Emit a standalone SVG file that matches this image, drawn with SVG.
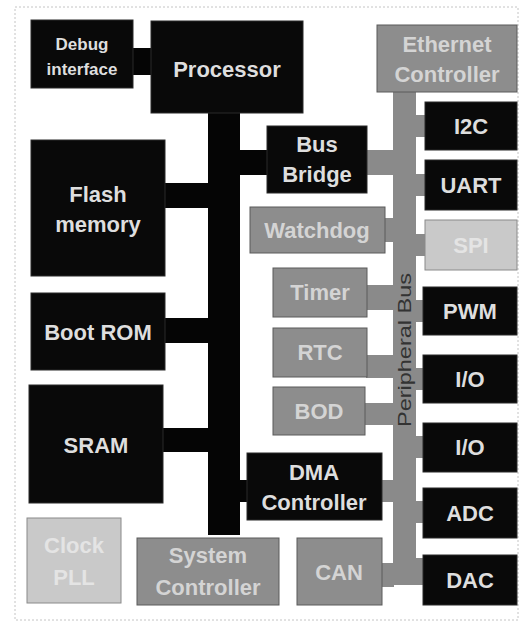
<svg xmlns="http://www.w3.org/2000/svg" width="523" height="623" viewBox="0 0 523 623">
<style>
text{font-family:"Liberation Sans",Arial,sans-serif;font-size:22px;font-weight:bold;text-anchor:middle}
.blk{fill:#090909;stroke:#2a2a2a;stroke-width:1}
.mid{fill:#8d8d8d;stroke:#5a5a5a;stroke-width:1}
.lt{fill:#c9c9c9;stroke:#8a8a8a;stroke-width:1}
.tb{fill:#dedede}
.tm{fill:#d4d4d4}
.tl{fill:#e4e4e4}
.bus{fill:#050505}
.pbus{fill:#8a8a8a}
</style>
<rect x="15" y="7" width="503" height="613" fill="#ffffff" stroke="#c4c4c4" stroke-width="1" stroke-dasharray="2,2"/>
<g id="connectors">
<rect class="bus" x="208" y="110" width="32" height="425"/>
<rect class="bus" x="132" y="48" width="20" height="27"/>
<rect class="bus" x="164" y="183" width="45" height="25"/>
<rect class="bus" x="164" y="318" width="45" height="25"/>
<rect class="bus" x="162" y="428" width="47" height="24"/>
<rect class="bus" x="239" y="150" width="29" height="25"/>
<rect class="bus" x="237" y="480" width="11" height="22"/>
<rect class="pbus" x="393" y="91" width="23" height="494"/>
<rect class="pbus" x="366" y="150" width="28" height="25"/>
<rect class="pbus" x="384" y="218" width="10" height="24"/>
<rect class="pbus" x="366" y="285" width="28" height="25"/>
<rect class="pbus" x="366" y="355" width="28" height="23"/>
<rect class="pbus" x="364" y="403" width="30" height="22"/>
<rect class="pbus" x="381" y="480" width="13" height="22"/>
<rect class="pbus" x="381" y="563" width="13" height="24"/>
<rect class="pbus" x="415" y="558" width="9" height="27"/>
<rect class="pbus" x="415" y="115" width="11" height="22"/>
<rect class="pbus" x="415" y="174" width="11" height="22"/>
<rect class="pbus" x="415" y="234" width="11" height="22"/>
<rect class="pbus" x="415" y="300" width="11" height="22"/>
<rect class="pbus" x="415" y="368" width="11" height="22"/>
<rect class="pbus" x="415" y="436" width="11" height="22"/>
<rect class="pbus" x="415" y="501" width="11" height="22"/>
<text x="405" y="350" transform="rotate(-90 405 350)" dy="6" textLength="154" lengthAdjust="spacingAndGlyphs" style="font-size:19px;font-weight:normal;fill:#333333">Peripheral Bus</text>
</g>
<g id="debug"><rect class="blk" x="31" y="20" width="102" height="68"/><text class="tb" x="82" y="50" style="font-size:17px">Debug</text><text class="tb" x="82" y="75" style="font-size:17px">interface</text></g>
<g id="processor"><rect class="blk" x="151" y="21" width="152" height="92"/><text class="tb" x="227" y="77">Processor</text></g>
<g id="flash"><rect class="blk" x="31" y="140" width="134" height="136"/><text class="tb" x="98" y="202">Flash</text><text class="tb" x="98" y="232">memory</text></g>
<g id="bootrom"><rect class="blk" x="31" y="293" width="134" height="77"/><text class="tb" x="98" y="340">Boot ROM</text></g>
<g id="sram"><rect class="blk" x="29" y="385" width="134" height="118"/><text class="tb" x="96" y="453">SRAM</text></g>
<g id="clockpll"><rect class="lt" x="27" y="518" width="94" height="85"/><text class="tl" x="74" y="553">Clock</text><text class="tl" x="74" y="585">PLL</text></g>
<g id="busbridge"><rect class="blk" x="267" y="126" width="100" height="67"/><text class="tb" x="317" y="152">Bus</text><text class="tb" x="317" y="182">Bridge</text></g>
<g id="ethernet"><rect class="mid" x="377" y="25" width="140" height="67"/><text class="tm" x="447" y="52">Ethernet</text><text class="tm" x="447" y="82">Controller</text></g>
<g id="watchdog"><rect class="mid" x="250" y="207" width="135" height="46"/><text class="tm" x="317" y="238">Watchdog</text></g>
<g id="timer"><rect class="mid" x="273" y="268" width="94" height="49"/><text class="tm" x="320" y="300">Timer</text></g>
<g id="rtc"><rect class="mid" x="273" y="328" width="94" height="49"/><text class="tm" x="320" y="360">RTC</text></g>
<g id="bod"><rect class="mid" x="273" y="387" width="92" height="48"/><text class="tm" x="319" y="419">BOD</text></g>
<g id="dma"><rect class="blk" x="247" y="453" width="135" height="67"/><text class="tb" x="314" y="480">DMA</text><text class="tb" x="314" y="510">Controller</text></g>
<g id="sysctrl"><rect class="mid" x="137" y="538" width="142" height="67"/><text class="tm" x="208" y="563">System</text><text class="tm" x="208" y="595">Controller</text></g>
<g id="can"><rect class="mid" x="297" y="538" width="85" height="67"/><text class="tm" x="339" y="580">CAN</text></g>
<g id="i2c"><rect class="blk" x="425" y="102" width="92" height="48"/><text class="tb" x="471" y="134">I2C</text></g>
<g id="uart"><rect class="blk" x="425" y="160" width="92" height="50"/><text class="tb" x="471" y="193">UART</text></g>
<g id="spi"><rect class="lt" x="425" y="220" width="92" height="50"/><text class="tl" x="471" y="253">SPI</text></g>
<g id="pwm"><rect class="blk" x="423" y="287" width="94" height="48"/><text class="tb" x="470" y="319">PWM</text></g>
<g id="io1"><rect class="blk" x="423" y="355" width="94" height="48"/><text class="tb" x="470" y="387">I/O</text></g>
<g id="io2"><rect class="blk" x="423" y="423" width="94" height="49"/><text class="tb" x="470" y="455">I/O</text></g>
<g id="adc"><rect class="blk" x="423" y="488" width="94" height="50"/><text class="tb" x="470" y="521">ADC</text></g>
<g id="dac"><rect class="blk" x="423" y="555" width="94" height="50"/><text class="tb" x="470" y="588">DAC</text></g>
</svg>
